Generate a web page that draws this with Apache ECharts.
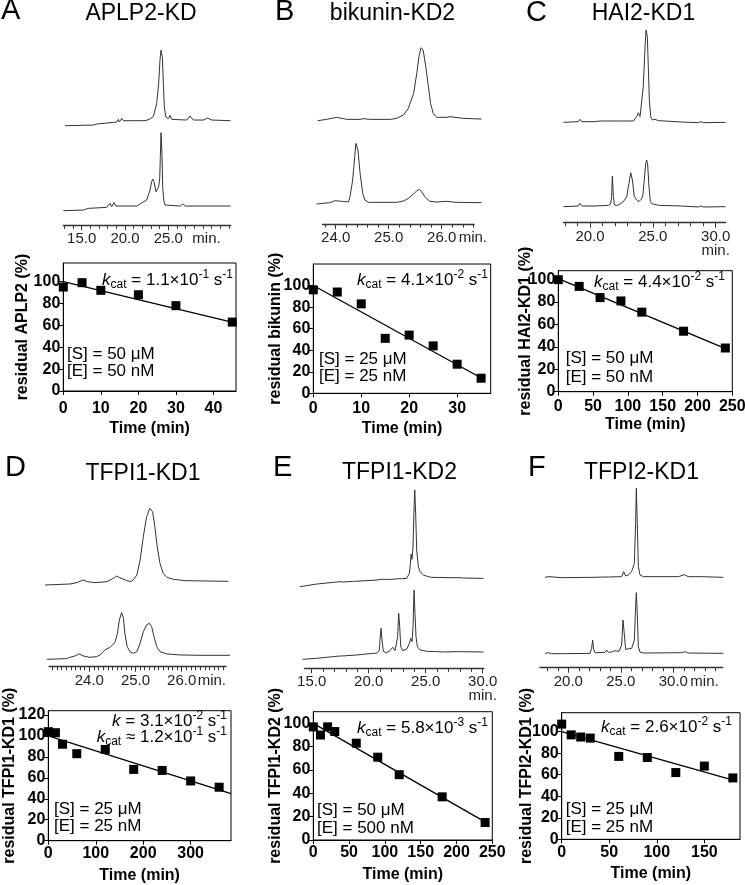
<!DOCTYPE html>
<html>
<head>
<meta charset="utf-8">
<title>Chromatograms and cleavage kinetics</title>
<script src="https://cdn.jsdelivr.net/npm/echarts@6.0.0/dist/echarts.min.js"></script>
<style>
html,body{margin:0;padding:0;background:#ffffff;}
#chart{width:745px;height:885px;}
</style>
</head>
<body>
<div id="chart"></div>
<script>
// ======================= DATA =======================
const panelLetters = ['A', 'B', 'C', 'D', 'E', 'F'];
const panelTitles = ['APLP2-KD', 'bikunin-KD2', 'HAI2-KD1', 'TFPI1-KD1', 'TFPI1-KD2', 'TFPI2-KD1'];
const yAxisTitles = ['residual APLP2 (%)', 'residual bikunin (%)', 'residual HAI2-KD1 (%)',
                     'residual TFPI1-KD1 (%)', 'residual TFPI1-KD2 (%)', 'residual TFPI2-KD1 (%)'];
const xAxisTitle = 'Time (min)';
const timeUnit = 'min.';

// HPLC traces: [retention time (min), absorbance (a.u.)]
const chromA_top = [[13.08,0],[16.35,2],[16.73,5],[19.04,11],[19.23,19],[19.35,11],[19.62,22],[19.81,15],[20.97,15],[22.31,15],[22.5,21],[22.81,19],[23.27,27],[23.66,67],[23.89,127],[24.04,197],[24.16,227],[24.31,207],[24.43,127],[24.54,57],[24.7,27],[25.0,21],[25.2,31],[25.39,19],[27.12,17],[27.51,29],[27.9,17],[29.05,17],[29.51,23],[30.01,17],[32.2,15]];
const chromA_bottom = [[12.88,0],[15.19,2],[15.77,7],[17.89,10],[18.27,22],[18.46,12],[18.73,24],[18.96,14],[21.35,14],[21.74,20],[22.51,32],[22.89,62],[23.08,87],[23.2,95],[23.35,87],[23.58,57],[23.74,54],[23.89,72],[24.01,97],[24.08,162],[24.16,234],[24.28,162],[24.35,72],[24.47,32],[24.62,17],[24.82,14],[26.36,14],[26.66,20],[26.97,14],[32.2,14]];
const chromB_top = [[23.66,0],[23.83,4],[24.02,10],[24.21,4],[24.46,4],[24.52,6],[24.65,4],[25.03,4],[25.15,7],[25.28,17],[25.37,37],[25.47,82],[25.53,142],[25.57,192],[25.61,219],[25.65,212],[25.7,162],[25.75,102],[25.79,52],[25.84,22],[25.91,10],[26.09,10],[26.16,12],[26.41,7],[26.75,5]];
const chromB_bottom = [[23.64,0],[23.89,4],[23.99,10],[24.11,8],[24.24,6],[24.27,22],[24.32,72],[24.36,142],[24.38,182],[24.42,162],[24.46,92],[24.51,32],[24.55,12],[24.62,5],[25.15,5],[25.28,9],[25.37,17],[25.47,30],[25.53,40],[25.58,44],[25.62,37],[25.69,20],[25.78,8],[25.91,6],[26.09,8],[26.28,5],[26.75,4]];
const chromC_top = [[17.88,2],[19.07,4],[19.2,11],[19.34,4],[20.4,4],[20.53,9],[20.8,6],[20.93,7],[21.99,6],[22.12,9],[22.25,6],[23.45,6],[23.71,19],[23.85,31],[23.98,19],[24.11,24],[24.24,109],[24.38,229],[24.46,279],[24.56,259],[24.64,169],[24.72,69],[24.83,19],[24.96,9],[25.17,11],[25.31,17],[25.44,7],[27.29,3],[27.43,0],[28.62,1],[28.83,4],[29.02,1],[30.8,2]];
const chromC_bottom = [[17.88,1],[19.07,3],[19.2,11],[19.39,3],[20.4,3],[21.46,5],[21.64,9],[21.72,31],[21.78,93],[21.86,31],[21.94,6],[22.12,4],[22.39,9],[22.65,16],[22.92,31],[23.1,71],[23.24,103],[23.37,81],[23.53,31],[23.71,21],[23.9,16],[24.06,23],[24.19,31],[24.32,81],[24.43,131],[24.51,141],[24.59,126],[24.69,61],[24.8,16],[24.96,9],[25.17,8],[25.31,11],[25.44,5],[27.29,3],[27.43,0],[28.62,0],[28.83,3],[29.02,0],[30.8,1]];
const chromD_top = [[23.04,0],[23.58,3],[23.73,7],[23.87,15],[23.96,10],[24.12,7],[24.38,10],[24.52,20],[24.59,27],[24.66,22],[24.81,13],[24.9,10],[24.95,15],[25.03,30],[25.1,75],[25.17,145],[25.24,205],[25.31,230],[25.37,220],[25.42,175],[25.47,115],[25.53,65],[25.6,35],[25.68,23],[25.82,17],[25.96,15],[26.07,13],[26.11,11],[27.01,11]];
const chromD_bottom = [[23.08,0],[23.51,2],[23.58,6],[23.69,10],[23.78,16],[23.87,10],[24.01,6],[24.16,8],[24.23,13],[24.34,28],[24.45,36],[24.52,46],[24.56,53],[24.61,78],[24.65,118],[24.7,140],[24.74,123],[24.77,78],[24.82,38],[24.88,23],[24.95,18],[25.03,23],[25.1,48],[25.17,83],[25.24,103],[25.3,108],[25.35,98],[25.4,68],[25.46,38],[25.53,23],[25.68,16],[25.96,13],[26.4,12],[27.05,12]];
const chromE_top = [[13.98,0],[15.44,8],[16.9,13],[17.49,15],[17.57,20],[17.72,14],[18.65,16],[20.7,20],[21.14,22],[21.23,27],[21.35,22],[22.02,22],[22.16,27],[22.31,23],[22.6,24],[22.75,28],[22.89,24],[23.33,25],[23.57,40],[23.66,70],[23.72,98],[23.8,82],[23.89,120],[23.98,240],[24.04,290],[24.12,220],[24.21,110],[24.36,60],[24.5,45],[24.8,35],[25.23,30],[25.53,28],[27.13,27],[28.01,27],[28.1,30],[28.3,26],[30.06,25]];
const chromE_bottom = [[14.21,0],[15.44,3],[16.9,8],[17.49,10],[17.57,15],[17.72,10],[18.95,13],[20.41,18],[20.7,18],[20.85,22],[20.94,28],[20.99,58],[21.08,93],[21.17,58],[21.29,23],[21.58,20],[21.87,26],[22.11,36],[22.31,26],[22.46,28],[22.54,68],[22.63,138],[22.72,98],[22.81,38],[22.98,26],[23.33,30],[23.57,48],[23.68,63],[23.8,53],[23.89,98],[23.98,208],[24.06,138],[24.15,68],[24.27,38],[24.5,28],[25.09,24],[25.96,23],[26.55,22],[27.72,23],[30.06,22]];
const chromF_top = [[17.78,2],[18.1,4],[18.25,0],[18.57,3],[18.73,0],[19.37,1],[22.22,2],[22.38,8],[22.54,2],[23.49,3],[23.65,6],[23.81,3],[25.08,4],[25.27,19],[25.46,6],[25.71,9],[26.03,19],[26.29,44],[26.41,164],[26.48,269],[26.57,164],[26.67,34],[26.83,9],[27.14,4],[30.48,4],[31.05,10],[31.43,4],[32.7,4],[34.76,2]];
const chromF_bottom = [[17.78,1],[18.1,3],[18.41,0],[19.37,0],[22.06,1],[22.22,16],[22.32,41],[22.41,13],[22.54,3],[23.49,4],[23.65,11],[23.81,4],[24.13,5],[24.44,9],[24.6,5],[24.83,7],[25.08,26],[25.21,101],[25.33,61],[25.46,13],[25.65,11],[26.03,16],[26.29,41],[26.41,141],[26.48,183],[26.57,121],[26.67,21],[26.83,5],[27.14,2],[30.79,3],[31.11,6],[31.43,2],[34.76,1]];

// chromatogram axis tick labels and minor ticks (min)
const chromA_labels = [15, 20, 25];
const chromB_labels = [24, 25, 26];
const chromC_labels = [20, 25, 30];
const chromD_labels = [24, 25, 26];
const chromE_labels = [15, 20, 25, 30];
const chromF_labels = [20, 25, 30];
const chromA_ticks = [13,14,15,16,17,18,19,20,21,22,23,24,25,26,27,28,29,30,31,32];
const chromB_ticks = [23.8,24,24.2,24.4,24.6,24.8,25,25.2,25.4,25.6,25.8,26,26.2,26.4,26.6];
const chromC_ticks = [18,19,20,21,22,23,24,25,26,27,28,29,30];
const chromD_ticks = [23.2,23.3,23.4,23.5,23.6,23.7,23.8,23.9,24,24.1,24.2,24.3,24.4,24.5,24.6,24.7,24.8,24.9,25,25.1,25.2,25.3,25.4,25.5,25.6,25.7,25.8,25.9,26,26.1,26.2,26.3,26.4,26.5,26.6,26.7,26.8,26.9];
const chromE_ticks = [15,16,17,18,19,20,21,22,23,24,25,26,27,28,29,30];
const chromF_ticks = [18,19,20,21,22,23,24,25,26,27,28,29,30,31,32,33,34];

// kinetics: time (min) and residual substrate (%)
const timeA = [0, 5, 10, 20, 30, 45];
const residA = [95, 99, 92, 88, 78, 63];
const fitA = [[0, 100], [46, 62]];
const timeB = [0, 5, 10, 15, 20, 25, 30, 35];
const residB = [96, 94, 83, 51, 54, 44, 27, 14];
const fitB = [[0, 100], [35.5, 13]];
const timeC = [0, 30, 60, 90, 120, 180, 240];
const residC = [100, 94, 84, 81, 71, 54, 39];
const fitC = [[0, 101], [242, 38]];
const timeD = [0, 15, 30, 60, 120, 180, 240, 300, 360];
const residD = [104, 103, 92, 83, 87, 68, 67, 57, 51];
const fitD = [[0, 100], [385, 45]];
const timeE = [0, 10, 20, 30, 60, 90, 120, 180, 240];
const residE = [97, 90, 97, 93, 83, 71, 56, 37, 15];
const fitE = [[0, 100], [244, 14]];
const timeF = [0, 10, 20, 30, 60, 90, 120, 150, 180];
const residF = [107, 97, 95, 94, 77, 76, 62, 68, 57];
const fitF = [[0, 100], [184, 54]];

const xTicksA = [0, 10, 20, 30, 40];
const xTicksB = [0, 10, 20, 30];
const xTicksC = [0, 50, 100, 150, 200, 250];
const xTicksD = [0, 100, 200, 300];
const xTicksE = [0, 50, 100, 150, 200, 250];
const xTicksF = [0, 50, 100, 150];
const yTicks100 = [0, 20, 40, 60, 80, 100];
const yTicks120 = [0, 20, 40, 60, 80, 100, 120];

const kineticLabels = [
  ['{i|k}{sub|cat}{n| = 1.1×10}{sup|-1}{n| s}{sup|-1}'],
  ['{i|k}{sub|cat}{n| = 4.1×10}{sup|-2}{n| s}{sup|-1}'],
  ['{i|k}{sub|cat}{n| = 4.4×10}{sup|-2}{n| s}{sup|-1}'],
  ['{i|k}{n| = 3.1×10}{sup|-2}{n| s}{sup|-1}', '{i|k}{sub|cat}{n| ≈ 1.2×10}{sup|-1}{n| s}{sup|-1}'],
  ['{i|k}{sub|cat}{n| = 5.8×10}{sup|-3}{n| s}{sup|-1}'],
  ['{i|k}{sub|cat}{n| = 2.6×10}{sup|-2}{n| s}{sup|-1}']
];
const conditionLabels = [
  ['[S] = 50 μM', '[E] = 50 nM'],
  ['[S] = 25 μM', '[E] = 25 nM'],
  ['[S] = 50 μM', '[E] = 50 nM'],
  ['[S] = 25 μM', '[E] = 25 nM'],
  ['[S] = 50 μM', '[E] = 500 nM'],
  ['[S] = 25 μM', '[E] = 25 nM']
];

const chromTraces = [[chromA_top, chromA_bottom], [chromB_top, chromB_bottom], [chromC_top, chromC_bottom],
                     [chromD_top, chromD_bottom], [chromE_top, chromE_bottom], [chromF_top, chromF_bottom]];
const chromLabels = [chromA_labels, chromB_labels, chromC_labels, chromD_labels, chromE_labels, chromF_labels];
const chromTicks = [chromA_ticks, chromB_ticks, chromC_ticks, chromD_ticks, chromE_ticks, chromF_ticks];
const kinTimes = [timeA, timeB, timeC, timeD, timeE, timeF];
const kinResid = [residA, residB, residC, residD, residE, residF];
const kinFits = [fitA, fitB, fitC, fitD, fitE, fitF];
const kinXTicks = [xTicksA, xTicksB, xTicksC, xTicksD, xTicksE, xTicksF];
const kinYTicks = [yTicks100, yTicks100, yTicks100, yTicks120, yTicks100, yTicks100];

// ======================= LAYOUT / STYLE =======================
const FONT = 'Arial, "Liberation Sans", Helvetica, sans-serif';
const SIG = 1 / 3;           // px per absorbance unit
const TRACE_COLOR = '#333333';
const chromLayout = [
  {ref: [15, 81.7, 25, 168.3],  topBase: 125.7, botBase: 210.7, axisY: 225.3, axis: [12.88, 32.2], unit: 'after', unitPad: 24},
  {ref: [24, 335.7, 26, 441.7], topBase: 120.7, botBase: 204,   axisY: 224,   axis: [23.75, 26.61], unit: 'after', unitPad: 17},
  {ref: [20, 590, 30, 715.7],   topBase: 123,   botBase: 207,   axisY: 222.7, axis: [17.88, 30.8], unit: 'below'},
  {ref: [24, 89.3, 26, 181.7],  topBase: 585,   botBase: 659.3, axisY: 666.7, axis: [23.13, 26.96], unit: 'after', unitPad: 16},
  {ref: [15, 311.7, 30, 482.7], topBase: 586.7, botBase: 659.3, axisY: 668.3, axis: [14.36, 30.1], unit: 'below'},
  {ref: [20, 568.3, 30, 673.3], topBase: 578,   botBase: 653.7, axisY: 667.7, axis: [17.3, 34.7], unit: 'after', unitPad: 17}
];
const kinLayout = [
  {left: 63.3,  right: 236,   top: 263,   bottom: 391,   xMax: 46,    yMax: 117,   lm: 10, gapX: 30, gapY: 33},
  {left: 313.3, right: 490.7, top: 264,   bottom: 393.3, xMax: 37,    yMax: 120,   lm: 7,  gapX: 27, gapY: 30},
  {left: 558.3, right: 732.3, top: 270.7, bottom: 391.7, xMax: 250,   yMax: 108,   lm: 7,  gapX: 25, gapY: 25},
  {left: 48.3,  right: 231,   top: 710.7, bottom: 840.7, xMax: 385,   yMax: 124,   lm: 5,  gapX: 27, gapY: 31},
  {left: 313.3, right: 492.3, top: 711.7, bottom: 840,   xMax: 250,   yMax: 110,   lm: 5,  gapX: 27, gapY: 30},
  {left: 561.7, right: 740,   top: 712.7, bottom: 839.3, xMax: 187.5, yMax: 117.6, lm: 5,  gapX: 26, gapY: 27}
];
const textLayout = [
  {letter: [1, 11],    title: [141, 13.5],   kin: [[233, 280]],             cond: [67, 354, 371]},
  {letter: [275, 12],  title: [392.5, 13.5], kin: [[488, 280]],             cond: [319, 359, 376]},
  {letter: [526, 12.5],title: [643.5, 14],   kin: [[725, 282]],             cond: [565.7, 358, 377]},
  {letter: [5, 468],   title: [143, 474],    kin: [[227, 721], [227, 737]], cond: [54, 809, 826]},
  {letter: [273, 468], title: [399.5, 472.5],kin: [[488, 728]],             cond: [317, 810, 828]},
  {letter: [528, 468], title: [641.5, 472.5],kin: [[732, 727]],             cond: [565.7, 809, 827]}
];

// ======================= BUILD =======================
const grids = [], xAxes = [], yAxes = [], series = [], graphics = [];
function addGrid(g) {
  grids.push(Object.assign({outerBoundsMode: 'none', containLabel: false, show: false}, g));
  return grids.length - 1;
}
const chromLabelStyle = {color: '#222', fontSize: 15, fontFamily: FONT, lineHeight: 14};

for (let i = 0; i < 6; i++) {
  const cl = chromLayout[i];
  const [t1, p1, t2, p2] = cl.ref;
  const ppm = (p2 - p1) / (t2 - t1);
  const px = t => p1 + (t - t1) * ppm;

  // traces
  chromTraces[i].forEach((trace, k) => {
    const base = k === 0 ? cl.topBase : cl.botBase;
    const tmin = trace[0][0], tmax = trace[trace.length - 1][0];
    const hmax = Math.max.apply(null, trace.map(d => d[1]));
    const gi = addGrid({left: px(tmin), width: px(tmax) - px(tmin), top: base - hmax * SIG, height: hmax * SIG});
    xAxes.push({gridIndex: gi, type: 'value', min: tmin, max: tmax, show: false});
    yAxes.push({gridIndex: gi, type: 'value', min: 0, max: hmax, show: false});
    series.push({type: 'line', xAxisIndex: xAxes.length - 1, yAxisIndex: yAxes.length - 1,
      data: trace, symbol: 'none', showSymbol: false, clip: false, animation: false, silent: true,
      lineStyle: {color: TRACE_COLOR, width: 1}});
  });

  // time axis
  const a0 = cl.axis[0], a1 = cl.axis[1];
  const gi = addGrid({left: px(a0), width: px(a1) - px(a0), top: cl.axisY - 20, height: 20});
  const labels = chromLabels[i];
  const last = labels[labels.length - 1];
  xAxes.push({
    gridIndex: gi, type: 'value', position: 'bottom', min: a0, max: a1,
    axisLine: {show: true, onZero: false, lineStyle: {color: '#333', width: 1.3}},
    axisTick: {show: true, customValues: labels, length: 5, lineStyle: {color: '#333', width: 1}},
    axisLabel: Object.assign({
      show: true, customValues: labels, margin: 7, hideOverlap: false,
      formatter: v => {
        const s = v.toFixed(1);
        return (cl.unit === 'below' && Math.abs(v - last) < 1e-9) ? s + '\n' + timeUnit : s;
      }
    }, chromLabelStyle),
    splitLine: {show: false}
  });
  xAxes.push({
    gridIndex: gi, type: 'value', position: 'bottom', min: a0, max: a1,
    axisLine: {show: false},
    axisTick: {show: true, customValues: chromTicks[i], length: 3.5, lineStyle: {color: '#333', width: 1}},
    axisLabel: {show: false}, splitLine: {show: false}
  });
  if (cl.unit === 'after') {
    xAxes.push({
      gridIndex: gi, type: 'value', position: 'bottom', min: a0, max: a1,
      axisLine: {show: false}, axisTick: {show: false}, splitLine: {show: false},
      axisLabel: Object.assign({show: true, customValues: [last], margin: 7, align: 'left',
        padding: [0, 0, 0, cl.unitPad], hideOverlap: false, formatter: () => timeUnit}, chromLabelStyle)
    });
  }
  yAxes.push({gridIndex: gi, type: 'value', min: 0, max: 1, show: false});

  // kinetics
  const kl = kinLayout[i];
  const kg = addGrid({left: kl.left, width: kl.right - kl.left, top: kl.top, height: kl.bottom - kl.top,
    show: true, borderColor: '#000', borderWidth: 1, backgroundColor: 'rgba(0,0,0,0)'});
  xAxes.push({
    gridIndex: kg, type: 'value', position: 'bottom', min: 0, max: kl.xMax,
    axisLine: {show: true, onZero: false, lineStyle: {color: '#000', width: 1}},
    axisTick: {show: true, customValues: kinXTicks[i], length: 4, lineStyle: {color: '#000', width: 1}},
    axisLabel: {show: true, customValues: kinXTicks[i], margin: kl.lm, color: '#000', fontSize: 16,
      fontWeight: 'bold', fontFamily: FONT},
    splitLine: {show: false},
    name: xAxisTitle, nameLocation: 'middle', nameGap: kl.gapX, nameMoveOverlap: false,
    nameTextStyle: {color: '#000', fontSize: 16, fontWeight: 'bold', fontFamily: FONT}
  });
  yAxes.push({
    gridIndex: kg, type: 'value', position: 'left', min: 0, max: kl.yMax,
    axisLine: {show: true, onZero: false, lineStyle: {color: '#000', width: 1}},
    axisTick: {show: true, customValues: kinYTicks[i], length: 4, lineStyle: {color: '#000', width: 1}},
    axisLabel: {show: true, customValues: kinYTicks[i], margin: 3, color: '#000', fontSize: 16,
      fontWeight: 'bold', fontFamily: FONT},
    splitLine: {show: false},
    name: yAxisTitles[i], nameLocation: 'middle', nameGap: kl.gapY, nameRotate: 90, nameMoveOverlap: false,
    nameTextStyle: {color: '#000', fontSize: 16, fontWeight: 'bold', fontFamily: FONT}
  });
  const xi = xAxes.length - 1, yi = yAxes.length - 1;
  series.push({type: 'line', xAxisIndex: xi, yAxisIndex: yi, data: kinFits[i], symbol: 'none',
    showSymbol: false, animation: false, silent: true, clip: false, lineStyle: {color: '#000', width: 1.3}});
  series.push({type: 'scatter', xAxisIndex: xi, yAxisIndex: yi, symbol: 'rect', symbolSize: 9,
    animation: false, silent: true, clip: false, itemStyle: {color: '#000', opacity: 1},
    data: kinTimes[i].map((t, j) => [t, kinResid[i][j]])});

  // texts
  const tl = textLayout[i];
  graphics.push({type: 'text', x: tl.letter[0], y: tl.letter[1], silent: true,
    style: {text: panelLetters[i], fontSize: 29, fontFamily: FONT, fill: '#000', align: 'left', verticalAlign: 'middle'}});
  graphics.push({type: 'text', x: tl.title[0], y: tl.title[1], silent: true,
    style: {text: panelTitles[i], fontSize: 23, fontFamily: FONT, fill: '#000', align: 'center', verticalAlign: 'middle'}});
  kineticLabels[i].forEach((txt, j) => {
    graphics.push({type: 'text', x: tl.kin[j][0], y: tl.kin[j][1], silent: true,
      style: {text: txt, align: 'right', verticalAlign: 'middle', fontFamily: FONT, fontSize: 17, fill: '#000',
        rich: {
          n: {fontSize: 17, fontFamily: FONT, fill: '#000', lineHeight: 22},
          i: {fontSize: 17, fontFamily: FONT, fill: '#000', fontStyle: 'italic', lineHeight: 22},
          sub: {fontSize: 12, fontFamily: FONT, fill: '#000', verticalAlign: 'bottom'},
          sup: {fontSize: 12, fontFamily: FONT, fill: '#000', verticalAlign: 'top'}
        }}});
  });
  conditionLabels[i].forEach((txt, j) => {
    graphics.push({type: 'text', x: tl.cond[0], y: tl.cond[1 + j], silent: true,
      style: {text: txt, align: 'left', verticalAlign: 'middle', fontFamily: FONT, fontSize: 17, fill: '#000'}});
  });
}

const chart = echarts.init(document.getElementById('chart'), null, {renderer: 'canvas', width: 745, height: 885});
chart.setOption({
  animation: false,
  backgroundColor: '#ffffff',
  grid: grids, xAxis: xAxes, yAxis: yAxes, series: series,
  graphic: {elements: graphics}
});
</script>
</body>
</html>
